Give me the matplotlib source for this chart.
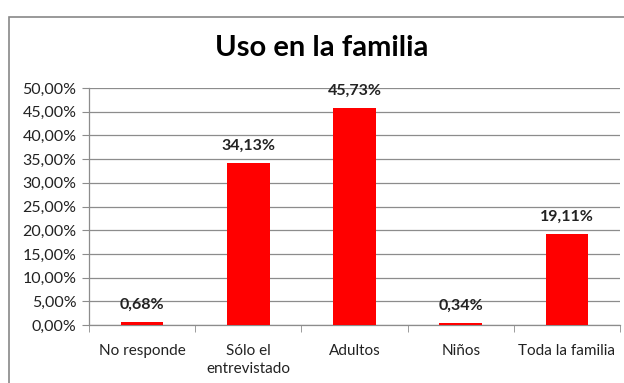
import matplotlib
matplotlib.use("Agg")
import matplotlib.pyplot as plt
import matplotlib.patches as mpatches
from matplotlib.ticker import FuncFormatter, FixedLocator

plt.rcParams["font.family"] = ["Lato", "DejaVu Sans"]

categories = ["No responde", "Sólo el\nentrevistado", "Adultos", "Niños", "Toda la familia"]
values = [0.68, 34.13, 45.73, 0.34, 19.11]
title = "Uso en la familia"

GRID = "#8c8c8c"
TEXT = "#222222"

fig = plt.figure(figsize=(6.24, 3.83), dpi=100)
ax = fig.add_axes([0.1426, 0.1514, 0.851, 0.6186])

# outer chart frame, open on the right and bottom like a cropped chart area
fig.patches.append(mpatches.Rectangle((9 / 624, -0.1), 2, (383 - 17) / 383 + 0.1,
                                      transform=fig.transFigure, fill=False,
                                      edgecolor="#888888", linewidth=1.2))

x = list(range(len(categories)))
ax.bar(x, values, width=0.4, color="#ff0000", zorder=3)

for xi, v in zip(x, values):
    ax.annotate(f"{v:.2f}%".replace(".", ","), xy=(xi, v), xytext=(0, 7.5),
                textcoords="offset points", ha="center", va="bottom",
                fontsize=11.5, fontweight="bold", color=TEXT)

ax.set_xlim(-0.5, len(categories) - 0.5)
ax.set_ylim(0, 50)
ax.set_yticks(range(0, 51, 5))
ax.yaxis.set_major_formatter(FuncFormatter(lambda v, _: f"{v:.2f}%".replace(".", ",")))
ax.grid(axis="y", color=GRID, linewidth=0.9, zorder=0)

ax.set_xticks(x)
ax.set_xticklabels(categories, linespacing=1.35)
ax.xaxis.set_minor_locator(FixedLocator([i - 0.5 for i in range(len(categories) + 1)]))
ax.tick_params(axis="x", which="major", length=0, pad=14, labelsize=11, labelcolor=TEXT)
ax.tick_params(axis="x", which="minor", length=5, color=GRID, direction="out")
ax.tick_params(axis="y", length=5, color=GRID, labelsize=11.5, labelcolor=TEXT, pad=4)

for side in ("top", "right"):
    ax.spines[side].set_visible(False)
for side in ("left", "bottom"):
    ax.spines[side].set_color(GRID)
    ax.spines[side].set_linewidth(0.9)

fig.text(0.516, 0.875, title, ha="center", va="center", fontsize=21,
         fontweight="bold", color="black")

fig.savefig("out.png", dpi=100)
